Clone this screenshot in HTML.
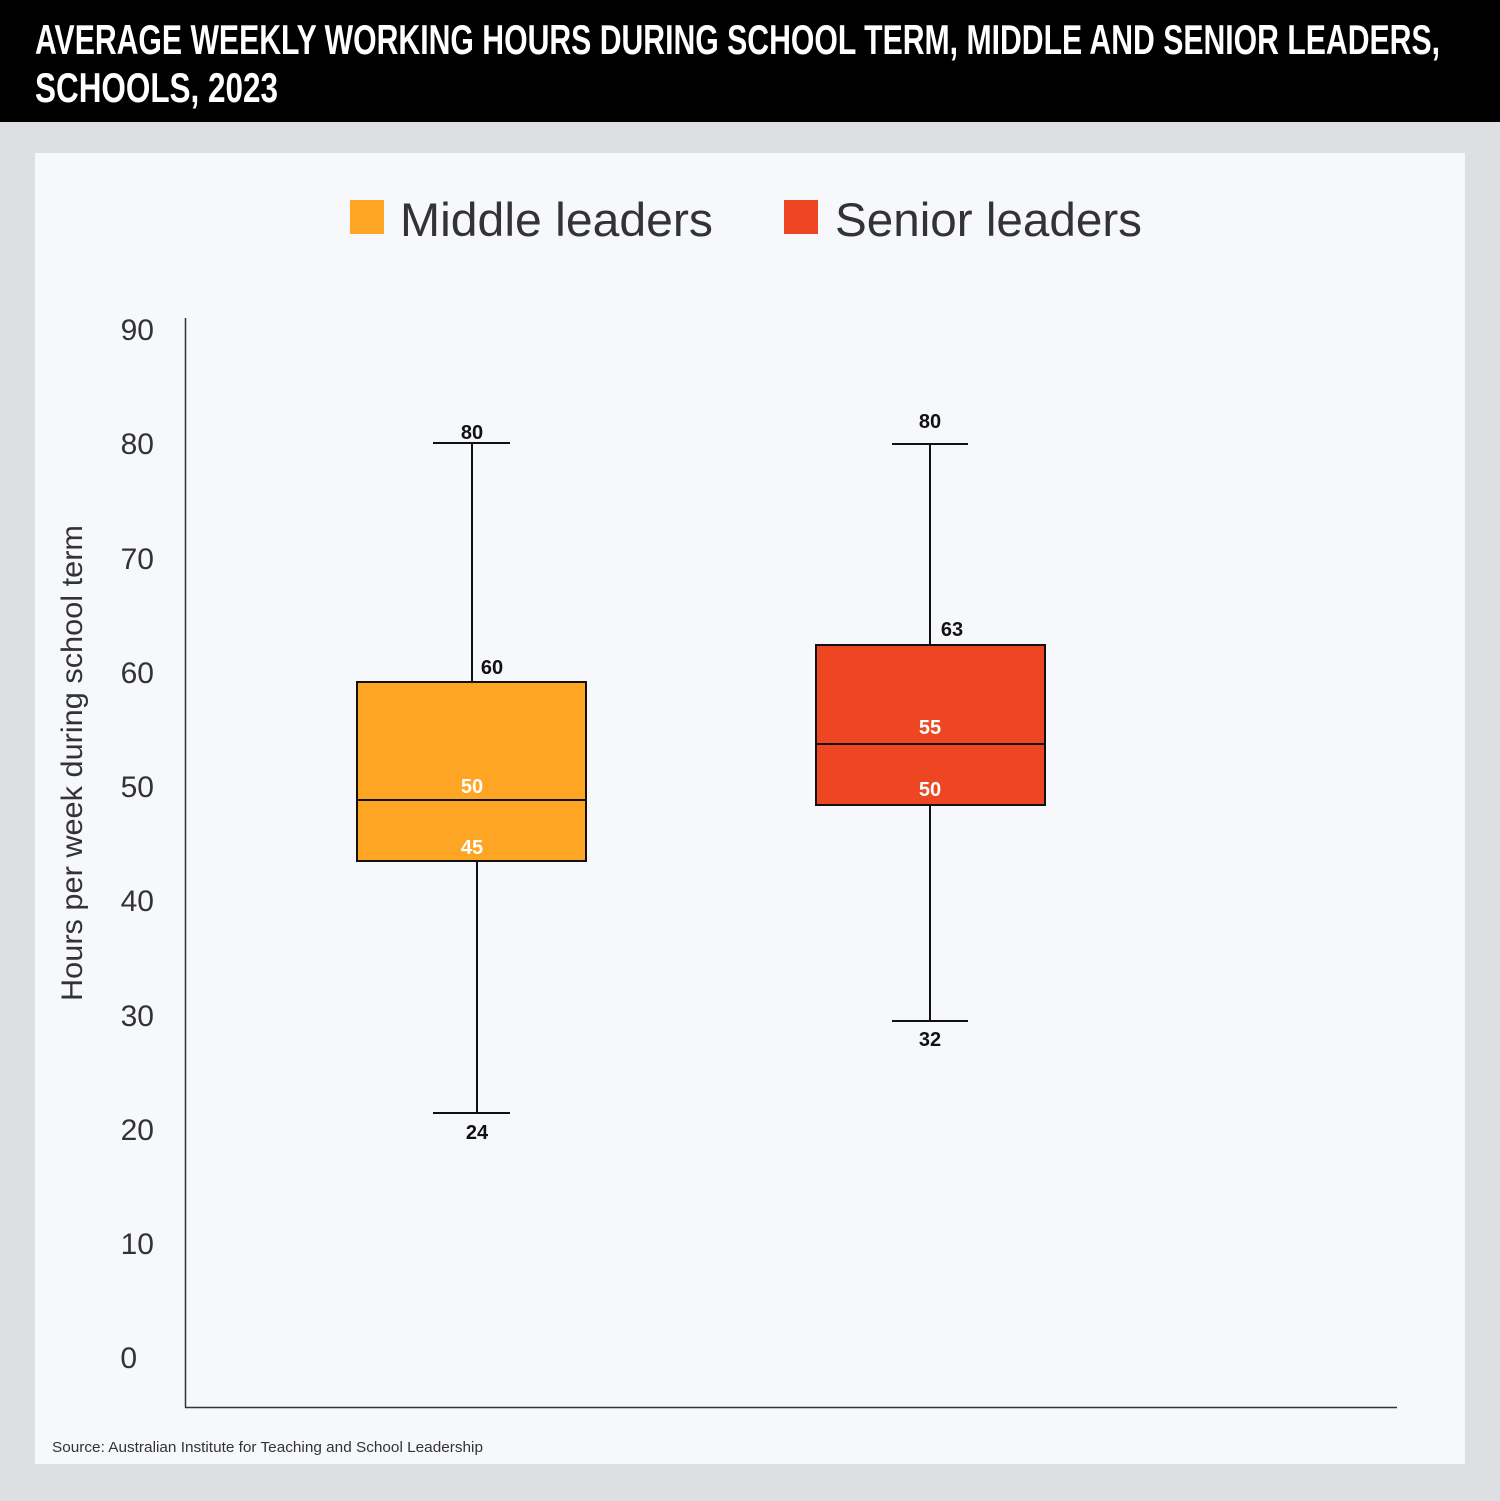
<!DOCTYPE html>
<html><head><meta charset="utf-8"><style>
html,body{margin:0;padding:0;background:#dedfe3}
svg{display:block}
text{font-family:"Liberation Sans",sans-serif}
</style></head><body>
<svg width="1500" height="1501" viewBox="0 0 1500 1501" xmlns="http://www.w3.org/2000/svg">
<rect x="0" y="0" width="1500" height="1501" fill="#dedfe3"/>
<rect x="0" y="0" width="1500" height="122" fill="#000"/>
<text x="35" y="54" font-size="42" font-weight="bold" fill="#fff" textLength="1405" lengthAdjust="spacingAndGlyphs">AVERAGE WEEKLY WORKING HOURS DURING SCHOOL TERM, MIDDLE AND SENIOR LEADERS,</text>
<text x="35" y="102" font-size="42" font-weight="bold" fill="#fff" textLength="243" lengthAdjust="spacingAndGlyphs">SCHOOLS, 2023</text>
<rect x="35" y="153" width="1430" height="1311" fill="#f6f8fc"/>
<rect x="350" y="200" width="34" height="34" fill="#ffa524"/>
<text x="400" y="236" font-size="47" fill="#333" textLength="313" lengthAdjust="spacingAndGlyphs">Middle leaders</text>
<rect x="784" y="200" width="34" height="34" fill="#ee4622"/>
<text x="835" y="236" font-size="47" fill="#333" textLength="307" lengthAdjust="spacingAndGlyphs">Senior leaders</text>
<line x1="185.5" y1="318" x2="185.5" y2="1407.5" stroke="#333" stroke-width="1.5"/>
<line x1="185" y1="1407.5" x2="1397" y2="1407.5" stroke="#333" stroke-width="1.5"/>
<g font-size="30" fill="#333" text-anchor="end">
<text x="154" y="340">90</text>
<text x="154" y="454">80</text>
<text x="154" y="569">70</text>
<text x="154" y="683">60</text>
<text x="154" y="797">50</text>
<text x="154" y="911">40</text>
<text x="154" y="1026">30</text>
<text x="154" y="1140">20</text>
<text x="154" y="1254">10</text>
<text x="137" y="1368">0</text>
</g>
<text transform="translate(82,763) rotate(-90)" font-size="30" fill="#333" text-anchor="middle" textLength="476" lengthAdjust="spacingAndGlyphs">Hours per week during school term</text>
<g stroke="#111" stroke-width="2" fill="none">
<line x1="472" y1="443" x2="472" y2="682"/>
<line x1="433" y1="443" x2="510" y2="443"/>
<line x1="477" y1="861" x2="477" y2="1113"/>
<line x1="433" y1="1113" x2="510" y2="1113"/>
<rect x="357" y="682" width="229" height="179" fill="#ffa524"/>
<line x1="357" y1="800" x2="586" y2="800"/>
<line x1="930" y1="444" x2="930" y2="645"/>
<line x1="892" y1="444" x2="968" y2="444"/>
<line x1="930" y1="805" x2="930" y2="1021"/>
<line x1="892" y1="1021" x2="968" y2="1021"/>
<rect x="816" y="645" width="229" height="160" fill="#ee4622"/>
<line x1="816" y1="744" x2="1045" y2="744"/>
</g>
<g font-size="20" font-weight="bold" text-anchor="middle" fill="#111">
<text x="472" y="439">80</text>
<text x="492" y="674">60</text>
<text x="477" y="1139">24</text>
<text x="930" y="428">80</text>
<text x="952" y="636">63</text>
<text x="930" y="1046">32</text>
</g>
<g font-size="20" font-weight="bold" text-anchor="middle" fill="#fff">
<text x="472" y="793">50</text>
<text x="472" y="854">45</text>
<text x="930" y="734">55</text>
<text x="930" y="796">50</text>
</g>
<text x="52" y="1452" font-size="15" fill="#333" textLength="431" lengthAdjust="spacingAndGlyphs">Source: Australian Institute for Teaching and School Leadership</text>
</svg>
</body></html>
